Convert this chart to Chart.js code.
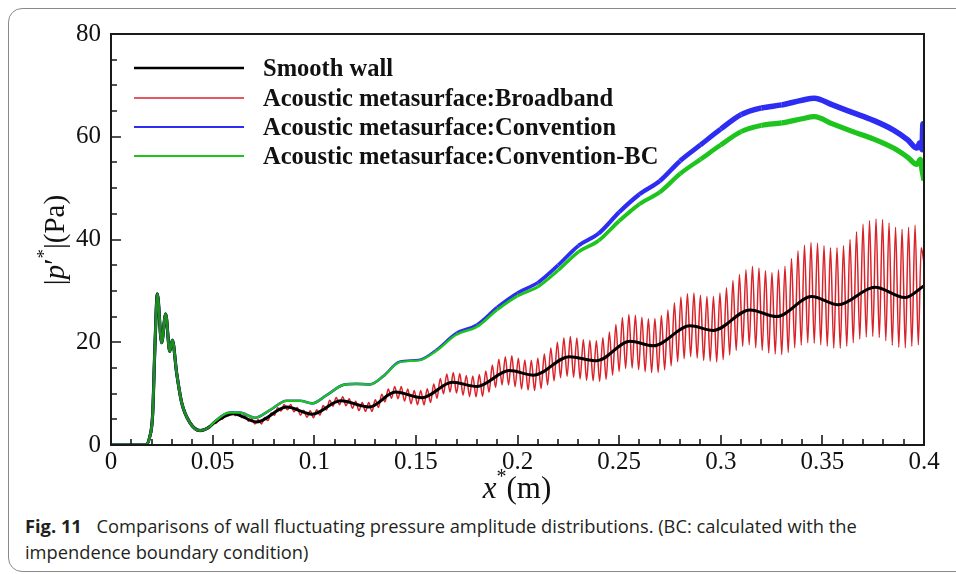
<!DOCTYPE html>
<html>
<head>
<meta charset="utf-8">
<script src="https://cdn.jsdelivr.net/npm/chart.js@4.4.1/dist/chart.umd.min.js"></script>
<style>
  html, body { margin: 0; padding: 0; background: #fff; }
  body { width: 956px; height: 574px; position: relative; overflow: hidden; }
  #frame { position: absolute; left: 8px; top: 8px; width: 990px; height: 564px; border: 1.5px solid #8a8a8a; border-radius: 14px; box-sizing: border-box; }
  #chart { position: absolute; left: 0; top: 0; }
  #caption { position: absolute; left: 25px; top: 513px; width: 925px; font-family: "Open Sans"; font-size: 18.3px; line-height: 26px; color: #231f20; white-space: nowrap; }
  #caption b { font-weight: 700; margin-right: 10px; }
</style>
</head>
<body>
<div id="frame"></div>
<canvas id="chart" width="956" height="510"></canvas>
<div id="caption"><b>Fig. 11</b> Comparisons of wall fluctuating pressure amplitude distributions. (BC: calculated with the<br>impendence boundary condition)</div>
<script>
// inlet peak, shared by smooth wall and both convention curves
const inletX = [0, 0.0170, 0.0190, 0.0205, 0.0216, 0.0228, 0.0249, 0.0269, 0.0289, 0.0302, 0.0323, 0.0348, 0.0389, 0.0438, 0.0487];
const inletY = [0, 0, 1.5, 6.0, 19.0, 29.4, 19.9, 25.5, 18.2, 20.4, 14.0, 8.2, 4.3, 2.8, 3.6];

// convention curves before they split
const convX = [0.0503, 0.0585, 0.0635, 0.0708, 0.0782, 0.0864, 0.0930, 0.0990, 0.1061, 0.1143, 0.1209, 0.1274, 0.1340];
const convY = [4.3, 6.3, 6.3, 5.3, 6.8, 8.6, 8.6, 8.1, 9.7, 11.7, 11.9, 11.8, 13.4];

const blueX = [0.1420, 0.1520, 0.1600, 0.1700, 0.1800, 0.1900, 0.2000, 0.2100, 0.2200, 0.2300,
  0.2400, 0.2500, 0.2600, 0.2700, 0.2800, 0.2900, 0.3000, 0.3100, 0.3200, 0.3300,
  0.3400, 0.3460, 0.3550, 0.3650, 0.3750, 0.3850, 0.3920, 0.3965, 0.3980, 0.3990,
  0.3995, 0.4000];
const blueY = [16.2, 16.6, 18.5, 21.8, 23.4, 26.8, 29.6, 31.6, 35.0, 38.8,
  41.2, 45.3, 48.8, 51.4, 55.3, 58.4, 61.5, 64.3, 65.6, 66.2,
  67.1, 67.5, 66.2, 64.7, 63.2, 61.3, 59.4, 57.8, 58.8, 57.5,
  62.5, 57.0];
const greenX = [0.1420, 0.1520, 0.1600, 0.1700, 0.1800, 0.1900, 0.2000, 0.2100, 0.2200, 0.2300,
  0.2400, 0.2500, 0.2600, 0.2700, 0.2800, 0.2900, 0.3000, 0.3100, 0.3200, 0.3300,
  0.3400, 0.3460, 0.3550, 0.3650, 0.3750, 0.3850, 0.3920, 0.3965, 0.3982, 0.3990,
  0.4000];
const greenY = [16.1, 16.5, 18.3, 21.5, 23.0, 26.3, 29.0, 30.8, 34.0, 37.6,
  39.8, 43.6, 46.9, 49.2, 52.8, 55.6, 58.4, 61.0, 62.2, 62.7,
  63.5, 63.9, 62.5, 61.0, 59.6, 57.8, 56.0, 54.6, 55.6, 53.5,
  51.5];

const smoothX = [0.0503, 0.0602, 0.0717, 0.0864, 0.0990, 0.1130, 0.1270, 0.1400, 0.1530, 0.1680,
  0.1800, 0.1960, 0.2080, 0.2255, 0.2390, 0.2554, 0.2668, 0.2849, 0.2963, 0.3144,
  0.3275, 0.3447, 0.3578, 0.3759, 0.3906, 0.4000];
const smoothY = [4.2, 6.1, 4.5, 7.4, 6.0, 8.6, 7.4, 10.3, 9.2, 12.2,
  11.4, 14.5, 13.6, 17.2, 16.4, 20.2, 19.3, 23.2, 22.3, 26.3,
  25.0, 28.9, 27.3, 30.7, 28.7, 31.0];

// broadband: peaks and troughs of the oscillation
const broadX = [0.0500, 0.0516, 0.0532, 0.0548, 0.0564, 0.0580, 0.0596, 0.0612, 0.0628, 0.0644,
  0.0660, 0.0676, 0.0692, 0.0708, 0.0724, 0.0740, 0.0756, 0.0772, 0.0788, 0.0804,
  0.0820, 0.0836, 0.0852, 0.0868, 0.0884, 0.0900, 0.0916, 0.0932, 0.0948, 0.0964,
  0.0980, 0.0996, 0.1012, 0.1028, 0.1044, 0.1060, 0.1076, 0.1092, 0.1108, 0.1124,
  0.1140, 0.1156, 0.1172, 0.1188, 0.1204, 0.1220, 0.1236, 0.1252, 0.1268, 0.1284,
  0.1300, 0.1316, 0.1332, 0.1348, 0.1364, 0.1380, 0.1396, 0.1412, 0.1428, 0.1444,
  0.1460, 0.1476, 0.1492, 0.1508, 0.1524, 0.1540, 0.1556, 0.1572, 0.1588, 0.1604,
  0.1620, 0.1636, 0.1652, 0.1668, 0.1684, 0.1700, 0.1716, 0.1732, 0.1748, 0.1764,
  0.1780, 0.1796, 0.1812, 0.1828, 0.1844, 0.1860, 0.1876, 0.1892, 0.1908, 0.1924,
  0.1940, 0.1956, 0.1972, 0.1988, 0.2004, 0.2020, 0.2036, 0.2052, 0.2068, 0.2084,
  0.2100, 0.2116, 0.2132, 0.2148, 0.2164, 0.2180, 0.2196, 0.2212, 0.2228, 0.2244,
  0.2260, 0.2276, 0.2292, 0.2308, 0.2324, 0.2340, 0.2356, 0.2372, 0.2388, 0.2404,
  0.2420, 0.2436, 0.2452, 0.2468, 0.2484, 0.2500, 0.2516, 0.2532, 0.2548, 0.2564,
  0.2580, 0.2596, 0.2612, 0.2628, 0.2644, 0.2660, 0.2676, 0.2692, 0.2708, 0.2724,
  0.2740, 0.2756, 0.2772, 0.2788, 0.2804, 0.2820, 0.2836, 0.2852, 0.2868, 0.2884,
  0.2900, 0.2916, 0.2932, 0.2948, 0.2964, 0.2980, 0.2996, 0.3012, 0.3028, 0.3044,
  0.3060, 0.3076, 0.3092, 0.3108, 0.3124, 0.3140, 0.3156, 0.3172, 0.3188, 0.3204,
  0.3220, 0.3236, 0.3252, 0.3268, 0.3284, 0.3300, 0.3316, 0.3332, 0.3348, 0.3364,
  0.3380, 0.3396, 0.3412, 0.3428, 0.3444, 0.3460, 0.3476, 0.3492, 0.3508, 0.3524,
  0.3540, 0.3556, 0.3572, 0.3588, 0.3604, 0.3620, 0.3636, 0.3652, 0.3668, 0.3684,
  0.3700, 0.3716, 0.3732, 0.3748, 0.3764, 0.3780, 0.3796, 0.3812, 0.3828, 0.3844,
  0.3860, 0.3876, 0.3892, 0.3908, 0.3924, 0.3940, 0.3956, 0.3972, 0.3986, 0.4000];
const broadY = [4.4, 4.2, 5.0, 5.0, 6.0, 5.7, 6.4, 5.7, 6.3, 5.35,
  5.7, 4.6, 5.1, 4.1, 4.95, 4.1, 5.35, 4.75, 6.25, 5.8,
  7.25, 6.6, 7.9, 6.85, 7.9, 6.45, 7.3, 5.8, 6.75, 5.4,
  6.65, 5.3, 6.85, 5.8, 7.7, 6.8, 8.7, 7.55, 9.25, 7.85,
  9.4, 7.65, 9.0, 7.15, 8.5, 6.7, 8.25, 6.55, 8.25, 6.5,
  8.8, 7.3, 9.9, 8.4, 10.9, 9.1, 11.4, 9.0, 11.4, 8.55,
  10.9, 8.05, 10.6, 7.85, 10.6, 7.8, 10.95, 8.25, 11.85, 9.1,
  12.95, 9.95, 13.8, 10.3, 14.1, 10.1, 13.9, 9.7, 13.55, 9.45,
  13.45, 9.4, 13.7, 9.45, 14.4, 10.25, 15.55, 11.2, 16.7, 11.7,
  17.2, 11.7, 17.35, 11.35, 16.9, 10.9, 16.55, 10.7, 16.5, 10.6,
  16.9, 11.0, 17.7, 11.7, 18.9, 12.5, 20.0, 13.1, 20.85, 13.4,
  21.1, 13.2, 20.85, 12.85, 20.5, 12.6, 20.35, 12.5, 20.3, 12.4,
  20.9, 12.8, 22.0, 13.6, 23.45, 14.3, 24.8, 14.9, 25.4, 15.0,
  25.25, 14.65, 24.85, 14.25, 24.55, 14.1, 24.6, 14.1, 25.2, 14.6,
  26.3, 15.4, 27.7, 16.2, 28.8, 16.8, 29.45, 17.2, 29.6, 16.9,
  29.15, 16.45, 28.9, 16.3, 28.9, 16.15, 29.6, 16.6, 30.6, 17.5,
  32.0, 18.4, 33.2, 19.2, 34.1, 19.5, 34.8, 18.9, 34.45, 18.4,
  33.95, 17.9, 33.6, 17.7, 34.1, 17.6, 34.8, 18.0, 36.3, 18.9,
  37.8, 19.4, 38.9, 19.9, 39.4, 19.8, 39.3, 19.5, 38.8, 19.2,
  38.4, 18.8, 38.4, 18.8, 38.8, 19.2, 40.0, 19.9, 41.5, 20.6,
  43.0, 21.0, 43.7, 21.1, 44.0, 20.9, 43.9, 20.3, 43.2, 19.4,
  42.4, 19.0, 42.0, 18.9, 42.4, 19.2, 42.8, 19.5, 38.4, 35.5];

const seriesNames = ['Smooth wall', 'Acoustic metasurface:Broadband', 'Acoustic metasurface:Convention', 'Acoustic metasurface:Convention-BC'];
const yTicks = [0, 20, 40, 60, 80];

function pts(xs, ys) {
  return xs.map((x, i) => ({ x: x, y: ys[i] }));
}

const serif = '"Liberation Serif", "Times New Roman", serif';
const axisColor = '#1a1a1a';

const smoothPts = pts(inletX, inletY).concat(pts(smoothX, smoothY));
const broadPts = pts(broadX, broadY);
const bluePts = pts(inletX, inletY).concat(pts(convX, convY), pts(blueX, blueY));
const greenPts = pts(inletX, inletY).concat(pts(convX, convY), pts(greenX, greenY));

// noisy band gets wider downstream
function bandWidth(base) {
  return ctx => {
    const x = ctx.p0.parsed.x;
    if (x < 0.047) return base + 0.6;
    return base + Math.min(3, Math.max(0, (x - 0.15) * 17));
  };
}

const decor = {
  id: 'decor',
  afterDraw(chart) {
    const c = chart.ctx, a = chart.chartArea;
    const xs = chart.scales.x, ys = chart.scales.y;
    c.save();
    c.strokeStyle = axisColor;
    c.lineWidth = 2;
    c.strokeRect(a.left, a.top, a.right - a.left, a.bottom - a.top);

    // inward ticks
    c.lineWidth = 1.6;
    c.beginPath();
    for (let i = 0; i <= 40; i++) {
      const px = Math.round(xs.getPixelForValue(i / 100));
      const len = i % 5 === 0 ? 10 : 6;
      c.moveTo(px, a.bottom);
      c.lineTo(px, a.bottom - len);
    }
    for (let v = 0; v <= 80; v += 5) {
      const py = Math.round(ys.getPixelForValue(v));
      const len = v % 20 === 0 ? 10 : 6;
      c.moveTo(a.left, py);
      c.lineTo(a.left + len, py);
    }
    c.stroke();

    // legend
    const rows = [68, 98, 127, 156];
    c.font = 'bold 24.5px ' + serif;
    c.textBaseline = 'alphabetic';
    c.fillStyle = '#111';
    [0, 1, 2, 3].forEach((di, r) => {
      const ds = chart.data.datasets[di];
      c.strokeStyle = ds.borderColor;
      c.lineWidth = ds.legendWidth;
      c.beginPath();
      c.moveTo(134, rows[r]);
      c.lineTo(244, rows[r]);
      c.stroke();
      c.fillText(ds.label, 263, rows[r] + 8);
    });

    // y title |p'*|(Pa)
    const yParts = [
      { t: '|', f: '29px ' + serif, dy: 0 },
      { t: 'p', f: 'italic 29px ' + serif, dy: 0 },
      { t: '\u2032', f: '29px ' + serif, dy: 0 },
      { t: '*', f: '19px ' + serif, dy: -14 },
      { t: '|(Pa)', f: '29px ' + serif, dy: 0 }
    ];
    drawParts(c, yParts, 64, 240, true);

    // x title x*(m)
    const xParts = [
      { t: 'x', f: 'italic 31px ' + serif, dy: 0 },
      { t: '*', f: '20px ' + serif, dy: -15 },
      { t: '(m)', f: '31px ' + serif, dy: 0 }
    ];
    drawParts(c, xParts, 517, 498, false);
    c.restore();
  }
};

function drawParts(c, parts, cx, cy, rotated) {
  let total = 0;
  parts.forEach(p => { c.font = p.f; p.w = c.measureText(p.t).width; total += p.w; });
  c.save();
  c.translate(cx, cy);
  if (rotated) c.rotate(-Math.PI / 2);
  c.fillStyle = '#111';
  let x = -total / 2;
  parts.forEach(p => {
    c.font = p.f;
    c.fillText(p.t, x, p.dy);
    x += p.w;
  });
  c.restore();
}

new Chart(document.getElementById('chart'), {
  type: 'line',
  data: {
    datasets: [
      {
        label: seriesNames[0], data: smoothPts, borderColor: '#000000', borderWidth: 3,
        legendWidth: 2.5, order: 1, cubicInterpolationMode: 'monotone'
      },
      {
        label: seriesNames[1], data: broadPts, borderColor: '#d8232a', borderWidth: 1.5,
        legendWidth: 1.5, order: 3, cubicInterpolationMode: 'monotone'
      },
      {
        label: seriesNames[2], data: bluePts, borderColor: '#2c2cf2', borderWidth: 2.6,
        legendWidth: 2, order: 2, cubicInterpolationMode: 'monotone',
        segment: { borderWidth: bandWidth(2.6) }
      },
      {
        label: seriesNames[3], data: greenPts, borderColor: '#1ec41e', borderWidth: 2.2,
        legendWidth: 2, order: 0, cubicInterpolationMode: 'monotone',
        segment: {
          borderWidth: bandWidth(2.2),
          borderColor: ctx => ctx.p0.parsed.x < 0.047 ? '#1f8a1f' : '#1ec41e'
        }
      }
    ]
  },
  options: {
    responsive: false,
    animation: false,
    parsing: false,
    elements: { point: { radius: 0 } },
    layout: { padding: { left: 0, right: 32, top: 34, bottom: 0 } },
    plugins: { legend: { display: false }, tooltip: { enabled: false } },
    scales: {
      x: {
        type: 'linear', min: 0, max: 0.4,
        grid: { display: false, drawTicks: false },
        border: { display: false },
        ticks: {
          stepSize: 0.05, padding: 2, color: '#111',
          font: { family: serif, size: 25 },
          maxRotation: 0, autoSkip: false,
          callback: v => String(Number(v.toFixed(2)))
        },
        afterFit: s => { s.height = 65; }
      },
      y: {
        type: 'linear', min: 0, max: 80,
        grid: { display: false, drawTicks: false },
        border: { display: false },
        afterBuildTicks: s => { s.ticks = yTicks.map(v => ({ value: v })); },
        ticks: {
          padding: 10, color: '#111',
          font: { family: serif, size: 25 }
        },
        afterFit: s => { s.width = 111; }
      }
    }
  },
  plugins: [decor]
});
</script>
</body>
</html>
